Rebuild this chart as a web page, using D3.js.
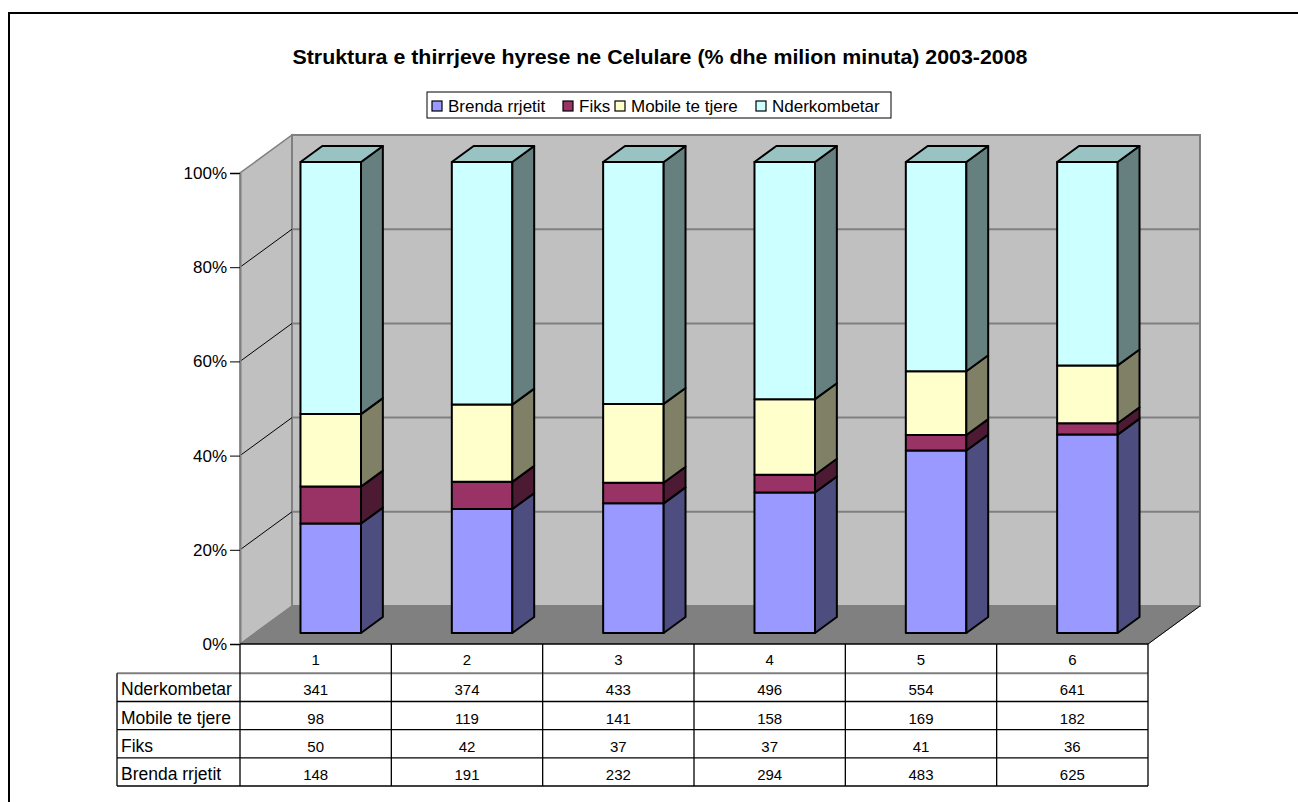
<!DOCTYPE html>
<html><head><meta charset="utf-8">
<script src="https://cdn.jsdelivr.net/npm/d3@7"></script>
<style>body{margin:0;background:#fff}svg{display:block}text{font-family:"Liberation Sans",Arial,sans-serif}</style>
</head><body><svg id="c" width="1298" height="802"></svg>
<script>
const categories = ["1","2","3","4","5","6"];
const seriesNames = ["Brenda rrjetit","Fiks","Mobile te tjere","Nderkombetar"];
const brenda = [148,191,232,294,483,625];
const fiks = [50,42,37,37,41,36];
const mobile = [98,119,141,158,169,182];
const nderkombetar = [341,374,433,496,554,641];
const yTicks = [0,0.2,0.4,0.6,0.8,1];
const title = "Struktura e thirrjeve hyrese ne Celulare (% dhe milion minuta) 2003-2008";

const front = ["#9999ff","#993366","#ffffcc","#ccffff"];
const side  = ["#4d4d80","#4d1a33","#808066","#668080"];
const topC  = ["#7373bf","#73264d","#bfbf99","#99c2c2"];

const svg = d3.select("#c");
svg.append("rect").attr("x",9).attr("y",13).attr("width",1400).attr("height",900)
  .attr("fill","none").attr("stroke","#000").attr("stroke-width",2);

const x = d3.scaleBand().domain(categories).range([240,1148]);
const y = d3.scaleLinear().domain([0,1]).range([644,173]);
const DX = 52, DY = -38;
const P = (px,v,d)=>[px+DX*d, y(v)+DY*d];
const poly = pts => "M"+pts.map(p=>p.join(",")).join("L")+"Z";

svg.append("text").attr("x",660).attr("y",63.5).attr("text-anchor","middle")
  .attr("font-weight","bold").attr("font-size",19.5)
  .attr("textLength",735).attr("lengthAdjust","spacingAndGlyphs").text(title);

const x0 = x.range()[0], x1 = x.range()[1];
svg.append("path").attr("d",poly([P(x0,0,0),P(x0,1,0),P(x0,1,1),P(x0,0,1)]))
  .attr("fill","#c0c0c0").attr("stroke","#808080").attr("stroke-width",1.5);
svg.append("path").attr("d",poly([P(x0,0,1),P(x0,1,1),P(x1,1,1),P(x1,0,1)]))
  .attr("fill","#c0c0c0").attr("stroke","#808080").attr("stroke-width",2);
svg.append("path").attr("d",poly([P(x0,0,0),P(x0,0,1),P(x1,0,1),P(x1,0,0)]))
  .attr("fill","#808080").attr("stroke","#808080").attr("stroke-width",1);
svg.append("line").attr("x1",P(x1,0,0)[0]).attr("y1",P(x1,0,0)[1]).attr("x2",P(x1,0,1)[0]).attr("y2",P(x1,0,1)[1])
  .attr("stroke","#000").attr("stroke-width",1);

yTicks.filter(t=>t>0 && t<1).forEach(t=>{
  const a=P(x0,t,1), b=P(x1,t,1), c=P(x0,t,0);
  svg.append("line").attr("x1",a[0]).attr("y1",a[1]).attr("x2",b[0]).attr("y2",b[1]).attr("stroke","#808080").attr("stroke-width",2);
  svg.append("line").attr("x1",c[0]).attr("y1",c[1]).attr("x2",a[0]).attr("y2",a[1]).attr("stroke","#000").attr("stroke-width",1);
});
const ax = svg.append("g").attr("transform",`translate(${x0},0)`)
  .call(d3.axisLeft(y).tickValues(yTicks).tickFormat(d3.format(".0%")).tickSize(10).tickPadding(3));
ax.select(".domain").attr("stroke","#808080").attr("stroke-width",2);
ax.selectAll(".tick line").attr("stroke","#000");
ax.selectAll("text").attr("font-size",17).attr("font-family","Liberation Sans, Arial").attr("fill","#000");

const values = [brenda,fiks,mobile,nderkombetar];
const d0=0.29, d1=0.71, bw=0.40;
categories.forEach((c,i)=>{
  const tot = d3.sum(values,s=>s[i]);
  let cum=0;
  const xl = x(c)+x.bandwidth()*(1-bw)/2, xr = xl + x.bandwidth()*bw;
  const g = svg.append("g");
  values.forEach((s,k)=>{
    const v0=cum/tot, v1=(cum+s[i])/tot; cum+=s[i];
    g.append("path").attr("d",poly([P(xl,v0,d0),P(xl,v1,d0),P(xr,v1,d0),P(xr,v0,d0)]))
      .attr("fill",front[k]).attr("stroke","#000").attr("stroke-width",2).attr("stroke-linejoin","round");
    g.append("path").attr("d",poly([P(xr,v0,d0),P(xr,v1,d0),P(xr,v1,d1),P(xr,v0,d1)]))
      .attr("fill",side[k]).attr("stroke","#000").attr("stroke-width",2).attr("stroke-linejoin","round");
    if(k===values.length-1){
      g.append("path").attr("d",poly([P(xl,v1,d0),P(xl,v1,d1),P(xr,v1,d1),P(xr,v1,d0)]))
        .attr("fill",topC[k]).attr("stroke","#000").attr("stroke-width",2).attr("stroke-linejoin","round");
    }
  });
});

const lg = svg.append("g");
lg.append("rect").attr("x",427).attr("y",92).attr("width",464).attr("height",26).attr("fill","#fff").attr("stroke","#000").attr("stroke-width",1);
const legX = [432,563,615,756];
seriesNames.forEach((n,k)=>{
  lg.append("rect").attr("x",legX[k]).attr("y",101).attr("width",10).attr("height",10).attr("fill",front[k]).attr("stroke","#000").attr("stroke-width",1.2);
  lg.append("text").attr("x",legX[k]+16).attr("y",111.5).attr("font-size",17).text(n);
});

const rowOrder = [3,2,1,0];
const rowLabels = rowOrder.map(k=>seriesNames[k]);
const tableTop = 644, headerBottom = 673.3, tableBottom = 786, labelLeft = 117;
const r = d3.scaleBand().domain(rowLabels).range([headerBottom, tableBottom]);
const tg = svg.append("g");
tg.append("rect").attr("x",x0).attr("y",tableTop).attr("width",x1-x0).attr("height",headerBottom-tableTop).attr("fill","#fff");
tg.append("rect").attr("x",labelLeft).attr("y",headerBottom).attr("width",x1-labelLeft).attr("height",tableBottom-headerBottom).attr("fill","#fff");
tg.append("line").attr("x1",x0).attr("x2",x1).attr("y1",tableTop).attr("y2",tableTop).attr("stroke","#000").attr("stroke-width",1.5);
tg.append("line").attr("x1",labelLeft).attr("x2",x1).attr("y1",headerBottom).attr("y2",headerBottom).attr("stroke","#808080").attr("stroke-width",2);
rowLabels.forEach(l=>{
  const yy = r(l)+r.bandwidth();
  tg.append("line").attr("x1",labelLeft).attr("x2",x1).attr("y1",yy).attr("y2",yy).attr("stroke","#000").attr("stroke-width",1.3);
});
tg.append("line").attr("x1",labelLeft).attr("x2",labelLeft).attr("y1",headerBottom).attr("y2",tableBottom).attr("stroke","#000").attr("stroke-width",1.3);
[...categories.map(c=>x(c)), x1].forEach(xx=>{
  tg.append("line").attr("x1",xx).attr("x2",xx).attr("y1",tableTop).attr("y2",tableBottom).attr("stroke","#000").attr("stroke-width",1.3);
});
categories.forEach((c,i)=>{
  tg.append("text").attr("x",x(c)+x.bandwidth()/2).attr("y",headerBottom-8).attr("text-anchor","middle").attr("font-size",15).text(c);
  rowOrder.forEach(k=>{
    tg.append("text").attr("x",x(c)+x.bandwidth()/2).attr("y",r(seriesNames[k])+r.bandwidth()-6).attr("text-anchor","middle").attr("font-size",15).text(values[k][i]);
  });
});
rowOrder.forEach(k=>{
  tg.append("text").attr("x",labelLeft+4).attr("y",r(seriesNames[k])+r.bandwidth()-6).attr("font-size",17.5).text(seriesNames[k]);
});
</script></body></html>
